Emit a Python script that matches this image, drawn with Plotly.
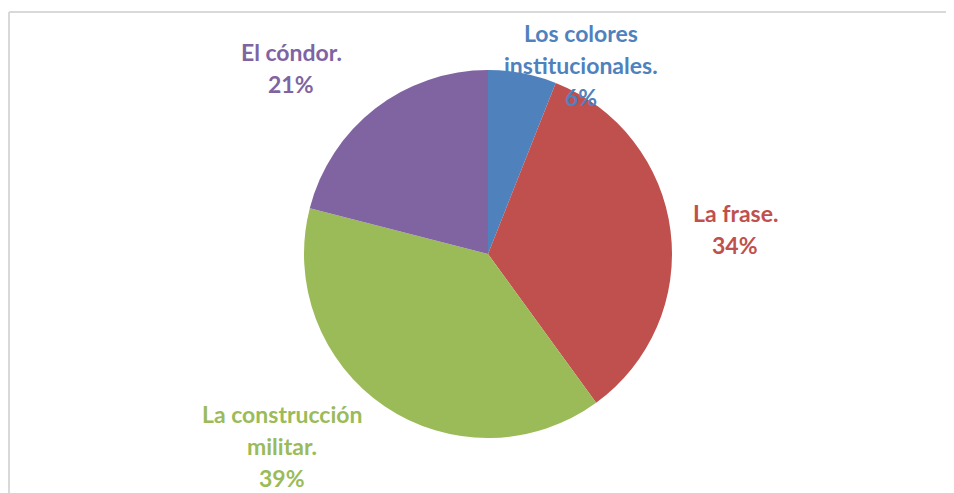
import plotly.graph_objects as go

# datos del gráfico
etiquetas = ["Los colores institucionales.", "La frase.", "La construcción militar.", "El cóndor."]
valores = [6, 34, 39, 21]
colores = ["#4F81BD", "#C0504D", "#9BBB59", "#8064A2"]

# lineas de texto de cada etiqueta y su posicion (px de la pagina)
lineas_etiqueta = [
    ["Los colores", "institucionales.", "6%"],
    ["La frase.", "34%"],
    ["La construcción", "militar.", "39%"],
    ["El cóndor.", "21%"],
]
pos_etiqueta = [(581, 33), (735, 213), (282, 414), (291, 52)]

OFF = 8  # margen del body de la pagina
W, H = 954 - OFF, 493 - OFF
cx, cy, r = 488 - OFF, 254 - OFF, 184

fig = go.Figure()
fig.add_trace(go.Pie(
    labels=etiquetas,
    values=valores,
    sort=False,
    direction="clockwise",
    rotation=0,
    marker=dict(colors=colores, line=dict(width=0)),
    textinfo="none",
    hoverinfo="label+percent",
    showlegend=False,
    domain=dict(x=[(cx - r) / W, (cx + r) / W], y=[(H - cy - r) / H, (H - cy + r) / H]),
))

# etiquetas fuera del pastel, una anotacion por linea
for lineas, (x, y), col in zip(lineas_etiqueta, pos_etiqueta, colores):
    for i, texto in enumerate(lineas):
        fig.add_annotation(
            x=(x - OFF) / W, y=1 - (y - OFF + i * 32) / H, xref="paper", yref="paper",
            text="<b>" + texto + "</b>", showarrow=False,
            xanchor="center", yanchor="middle",
            font=dict(family="Lato, Open Sans, sans-serif", size=23, color=col),
        )

# marco del area del grafico (solo se ven el borde izquierdo y el superior)
fig.add_shape(type="line", xref="paper", yref="paper",
              x0=1 / W, x1=1 / W, y0=0, y1=1 - 4 / H,
              line=dict(color="#D9D9D9", width=2))
fig.add_shape(type="line", xref="paper", yref="paper",
              x0=1 / W, x1=1, y0=1 - 4 / H, y1=1 - 4 / H,
              line=dict(color="#D9D9D9", width=2))

fig.update_layout(
    width=W, height=H,
    margin=dict(l=0, r=0, t=0, b=0),
    paper_bgcolor="white",
    plot_bgcolor="white",
)

fig.write_html("out.html")
